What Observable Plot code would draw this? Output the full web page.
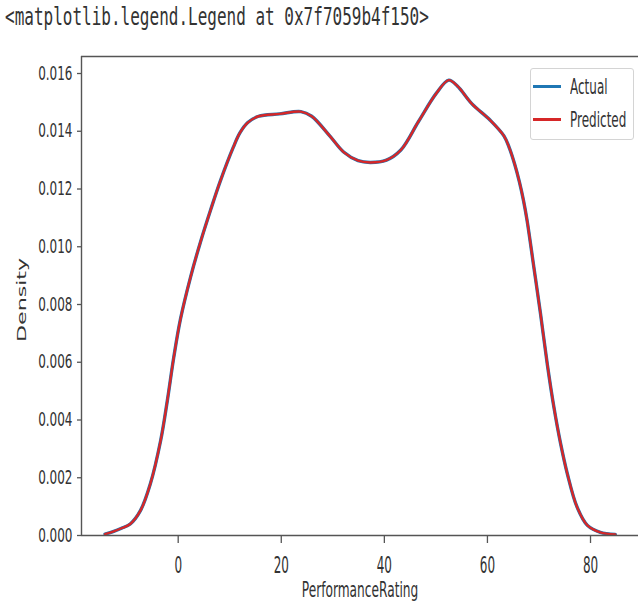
<!DOCTYPE html>
<html>
<head>
<meta charset="utf-8">
<script src="https://cdn.jsdelivr.net/npm/d3@7"></script>
<script src="https://cdn.jsdelivr.net/npm/@observablehq/plot@0.6"></script>
<style>
  html, body { margin: 0; padding: 0; background: #fff; }
  #wrap { position: relative; width: 638px; height: 605px; overflow: hidden; }
  #wrap svg { position: absolute; left: 0; top: 0; }
  .txt { position: absolute; white-space: nowrap; line-height: 1; color: #333; transform-origin: 0 0; }
  #title { left: 5px; top: 5px; font-family: "DejaVu Sans Mono", monospace; font-size: 16px; transform: scaleY(1.5); }
  #xlabel { top: 580px; font-family: "DejaVu Sans", sans-serif; font-size: 12.2px; }
  #ylabel { left: 0; top: 0; font-family: "DejaVu Sans", sans-serif; font-size: 12.5px; }
  #legend { position: absolute; left: 530px; top: 68px; width: 102px; height: 70px; border: 1px solid #d4d4d4; border-radius: 3px; background: rgba(255,255,255,0.8); }
  .lh { position: absolute; height: 3.5px; width: 28px; }
  .lt { font-family: "DejaVu Sans", sans-serif; font-size: 12px; }
</style>
</head>
<body>
<div id="wrap"></div>
<script>
// ---- data ----
const titleText = "<matplotlib.legend.Legend at 0x7f7059b4f150>";
const xLabel = "PerformanceRating";
const yLabel = "Density";
const seriesNames = ["Actual", "Predicted"];
const seriesColors = ["#1f77b4", "#d62728"];
const xTicks = [0, 20, 40, 60, 80];
const yTicks = [0, 0.002, 0.004, 0.006, 0.008, 0.010, 0.012, 0.014, 0.016];

const rating = [-14.2, -12.5, -11.0, -9.3, -7.3, -5.4, -3.4, -2.1, -0.85, 0.45, 2.4, 4.3, 6.3, 8.1, 10.7, 12.0, 13.5, 15.6, 19.7, 23.8, 25.9, 29.4, 32.1, 34.9, 37.3, 40.4, 43.2, 46.6, 50.1, 52.5, 54.2, 57.0, 60.5, 63.2, 64.3, 65.3, 66.2, 67.0, 67.7, 69.0, 70.3, 71.6, 72.9, 74.2, 75.5, 77.4, 79.4, 81.9, 84.8];
const actualDensity = [0.00005, 0.00014, 0.00025, 0.00040, 0.00087, 0.00179, 0.00329, 0.00468, 0.00618, 0.00750, 0.00895, 0.01015, 0.01128, 0.01224, 0.01345, 0.01395, 0.01430, 0.01452, 0.01460, 0.01468, 0.01452, 0.01384, 0.01328, 0.01298, 0.01292, 0.01300, 0.01335, 0.01433, 0.01532, 0.01577, 0.01556, 0.01495, 0.01439, 0.01384, 0.01340, 0.01285, 0.01225, 0.01160, 0.01090, 0.00930, 0.00768, 0.00595, 0.00444, 0.00318, 0.00214, 0.00098, 0.00035, 0.00011, 0.00004];
const predictedDensity = [0.00005, 0.00014, 0.00025, 0.00040, 0.00087, 0.00179, 0.00329, 0.00468, 0.00618, 0.00750, 0.00895, 0.01015, 0.01128, 0.01224, 0.01345, 0.01395, 0.01430, 0.01452, 0.01460, 0.01468, 0.01452, 0.01384, 0.01328, 0.01298, 0.01292, 0.01300, 0.01335, 0.01433, 0.01532, 0.01577, 0.01556, 0.01495, 0.01439, 0.01384, 0.01340, 0.01285, 0.01225, 0.01160, 0.01090, 0.00930, 0.00768, 0.00595, 0.00444, 0.00318, 0.00214, 0.00098, 0.00035, 0.00011, 0.00004];

const xDomain = [-18.76, 89.31];
const yDomain = [0, 0.016589];

const table = rating.map((r, i) => ({x: r, actual: actualDensity[i], predicted: predictedDensity[i]}));

const spine = {stroke: "#555", strokeWidth: 1.4};
const chart = Plot.plot({
  width: 638, height: 605,
  marginLeft: 81, marginRight: 0, marginTop: 56, marginBottom: 70,
  x: {domain: xDomain},
  y: {domain: yDomain},
  style: {fontFamily: "DejaVu Sans, sans-serif", fontSize: "12px", color: "#333", background: "transparent"},
  marks: [
    Plot.line(table, {x: "x", y: "actual", stroke: seriesColors[0], strokeWidth: 3.4, curve: "catmull-rom"}),
    Plot.line(table, {x: "x", y: "predicted", stroke: seriesColors[1], strokeWidth: 2.4, curve: "catmull-rom"}),
    Plot.ruleY([yDomain[0]], spine),
    Plot.ruleY([yDomain[1]], spine),
    Plot.ruleX([xDomain[0]], spine),
    Plot.axisX({ticks: xTicks, tickSize: 8, tickPadding: 14, label: null, stroke: "#555", strokeWidth: 1.3}),
    Plot.axisY({ticks: yTicks, tickFormat: d3.format(".3f"), tickSize: 4, tickPadding: 5, label: null, stroke: "#555", strokeWidth: 1.3})
  ]
});

function stretch(sel, s) {
  chart.querySelectorAll(sel).forEach(t => {
    const tr = t.getAttribute("transform") || "";
    const x = t.getAttribute("x"), y = t.getAttribute("y");
    let tx = 0, ty = 0;
    if (x != null && !/em$/.test(x)) { tx = +x; t.removeAttribute("x"); }
    if (y != null && !/em$/.test(y)) { ty = +y; t.removeAttribute("y"); }
    t.setAttribute("transform", `${tr} translate(${tx},${ty}) scale(1,${s})`);
  });
}
stretch('g[aria-label="y-axis tick label"] text', 1.6);
stretch('g[aria-label="x-axis tick label"] text', 1.85);

const wrap = document.getElementById("wrap");
wrap.appendChild(chart);

function addText(id, text, cls) {
  const d = document.createElement("div");
  d.id = id; d.className = cls || "txt"; d.textContent = text;
  wrap.appendChild(d);
  return d;
}
addText("title", titleText);
const xl = addText("xlabel", xLabel);
xl.style.left = "0px";
const xw = xl.getBoundingClientRect().width;
xl.style.left = (360 - xw / 2) + "px";
xl.style.transform = "scaleY(1.7)";
const yl = addText("ylabel", yLabel);
yl.style.transform = "translate(16px, 342px) rotate(-90deg) scale(1.77, 1)";

const lg = document.createElement("div");
lg.id = "legend";
wrap.appendChild(lg);
const handleY = [86.7, 119.3];
seriesNames.forEach((name, i) => {
  const h = document.createElement("div");
  h.className = "lh";
  h.style.background = seriesColors[i];
  h.style.left = (533 - 531) + "px";
  h.style.top = (handleY[i] - 69 - 1.75) + "px";
  lg.appendChild(h);
  const t = document.createElement("div");
  t.className = "txt lt";
  t.textContent = name;
  t.style.left = (570 - 531) + "px";
  t.style.top = (handleY[i] - 69 - 10.8) + "px";
  t.style.transform = "scaleY(1.8)";
  lg.appendChild(t);
});
</script>
</body>
</html>
